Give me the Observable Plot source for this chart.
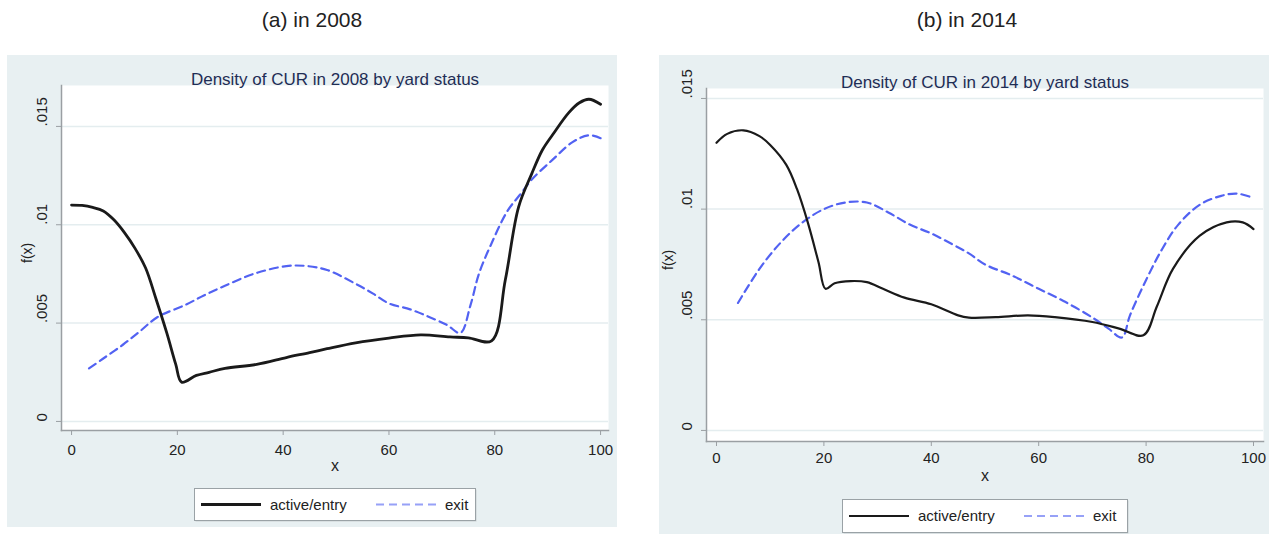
<!DOCTYPE html>
<html>
<head>
<meta charset="utf-8">
<script src="https://cdn.jsdelivr.net/npm/d3@7"></script>
<script src="https://cdn.jsdelivr.net/npm/@observablehq/plot@0.6"></script>
<style>
  body { margin: 0; background: #fff; font-family: "Liberation Sans", Arial, sans-serif; }
  #root { position: relative; width: 1274px; height: 534px; overflow: hidden; }
  .head { position: absolute; top: 8px; width: 300px; text-align: center; font-size: 21px; color: #222; }
  .panel { position: absolute; background: #e8f0f2; }
  .panel > svg { position: absolute; left: 0; top: 0; }
  .legend { position: absolute; overflow: visible; }
</style>
</head>
<body>
<div id="root"></div>
<script>
// Kernel density of CUR by yard status, evaluated on 0..100
const xTicks = [0, 20, 40, 60, 80, 100];
const yTicks = [0, 0.005, 0.01, 0.015];
const seriesNames = ["active/entry", "exit"];

// 2008
const xActive2008 = [0, 2, 4, 6, 8, 10, 12, 14, 16, 18, 19.7, 20.8, 23.6, 26, 29, 35, 40.6, 45, 48.3, 53.7, 60, 66, 71.5, 75, 79.4, 82, 84.5, 87, 89, 91, 94, 96, 97.8, 100];
const fActive2008 = [0.0110, 0.01098, 0.01088, 0.0107, 0.01025, 0.0096, 0.0088, 0.0078, 0.0062, 0.0045, 0.0029, 0.0020, 0.00234, 0.0025, 0.0027, 0.0029, 0.00325, 0.0035, 0.0037, 0.0040, 0.00424, 0.0044, 0.0043, 0.00425, 0.0041, 0.0072, 0.0109, 0.0126, 0.0138, 0.0146, 0.0157, 0.0162, 0.01638, 0.01613];
const xExit2008 = [3.3, 6, 9.7, 13, 16.2, 21.3, 25, 29, 34.4, 40.6, 44.5, 48.3, 53.7, 57, 60, 64, 67.7, 71, 73.5, 75.4, 77, 79.3, 82.4, 85, 87, 90.9, 94.7, 97.8, 100];
const fExit2008 = [0.0027, 0.0032, 0.0039, 0.0046, 0.0053, 0.0059, 0.0064, 0.0069, 0.0075, 0.0079, 0.0079, 0.0077, 0.0070, 0.0065, 0.0060, 0.0057, 0.0053, 0.0049, 0.0045, 0.0059, 0.0075, 0.0090, 0.0107, 0.0116, 0.0123, 0.0133, 0.0142, 0.01455, 0.0144];

// 2014
const xActive2014 = [0, 2, 5, 8, 10, 13, 15, 17, 19, 20.3, 22, 25, 28, 31, 35, 40, 45, 47, 52, 58, 63, 70, 75, 79.5, 82, 85, 90, 95, 98, 100];
const fActive2014 = [0.0130, 0.0134, 0.01356, 0.0133, 0.0129, 0.0120, 0.0109, 0.0094, 0.0076, 0.0064, 0.00665, 0.00675, 0.0067, 0.0064, 0.0060, 0.0057, 0.0052, 0.0051, 0.00512, 0.0052, 0.00512, 0.0049, 0.0046, 0.0043, 0.0056, 0.0073, 0.0088, 0.0094, 0.0094, 0.0091];
const xExit2014 = [4, 8, 12, 16, 20, 24, 28, 32, 36, 40, 44, 47, 50, 55, 60, 65, 70, 73, 75.5, 77, 80, 83, 86, 90, 94, 97, 100];
const fExit2014 = [0.00576, 0.0073, 0.0085, 0.0094, 0.0100, 0.0103, 0.0103, 0.00985, 0.0093, 0.0089, 0.0084, 0.0080, 0.0075, 0.0070, 0.0064, 0.0058, 0.0051, 0.0046, 0.0042, 0.0052, 0.0068, 0.0082, 0.0093, 0.0102, 0.0106, 0.0107, 0.0105];

const BLACK = "#1a1a1a";
const BLUE = "#5262f2";
const AXIS = "#9a9fa3";
const GRID = "#e4edef";

const rows = (xs, fs) => xs.map((x, i) => ({x, f: fs[i]}));
const fmt = d => d === 0 ? "0" : String(d).replace(/^0/, "");

function panel(cfg) {
  const div = document.createElement("div");
  div.className = "panel";
  Object.assign(div.style, {left: cfg.left + "px", top: cfg.top + "px", width: cfg.width + "px", height: cfg.height + "px"});

  const chart = Plot.plot({
    width: cfg.width,
    height: cfg.height,
    marginLeft: cfg.margin[0],
    marginTop: cfg.margin[1],
    marginRight: cfg.margin[2],
    marginBottom: cfg.margin[3],
    style: {background: "transparent", fontFamily: "'Liberation Sans', Arial, sans-serif", fontSize: "15px", color: "#222"},
    x: {domain: cfg.xDomain},
    y: {domain: cfg.yDomain},
    marks: [
      Plot.frame({fill: "white", stroke: null}),
      Plot.gridY(yTicks, {stroke: GRID, strokeOpacity: 1, strokeWidth: 1.5}),
      Plot.frame({anchor: "left", stroke: AXIS, strokeWidth: 1.5}),
      Plot.frame({anchor: "bottom", stroke: AXIS, strokeWidth: 1.5}),
      Plot.axisX({ticks: xTicks, tickSize: 5, tickPadding: cfg.xPad, stroke: AXIS, fill: "#222", label: null, fontSize: 15}),
      Plot.axisY({ticks: yTicks, tickSize: 5, tickFormat: () => "", stroke: AXIS, label: null}),
      Plot.text(yTicks, {y: d => d, text: fmt, frameAnchor: "left", dx: -19, rotate: -90, fontSize: 15, fill: "#222"}),
      Plot.text(["f(x)"], {frameAnchor: "left", dx: cfg.fxDx, dy: 5, rotate: -90, fontSize: 14, fill: "#222"}),
      Plot.text(["x"], {frameAnchor: "bottom", dy: cfg.xLabelDy, fontSize: 16, fill: "#222"}),
      Plot.text([cfg.title], {frameAnchor: "top", dy: -13, fontSize: 17, fill: "#1f2d55"}),
      Plot.line(rows(cfg.exit[0], cfg.exit[1]), {x: "x", y: "f", stroke: BLUE, strokeWidth: 2.2, strokeDasharray: "8,5", curve: "catmull-rom"}),
      Plot.line(rows(cfg.active[0], cfg.active[1]), {x: "x", y: "f", stroke: BLACK, strokeWidth: cfg.blackWidth, curve: "catmull-rom"})
    ]
  });
  div.appendChild(chart);

  // legend box beneath the plot
  const L = cfg.legend;
  const svg = d3.create("svg")
    .attr("class", "legend")
    .attr("width", L.w + 4).attr("height", L.h + 4)
    .style("left", L.x + "px").style("top", L.y + "px")
    .style("position", "absolute");
  svg.append("rect").attr("x", 1.5).attr("y", 1.5).attr("width", L.w).attr("height", L.h)
    .attr("fill", "#c9cfd2");
  svg.append("rect").attr("x", 0.5).attr("y", 0.5).attr("width", L.w).attr("height", L.h)
    .attr("fill", "white").attr("stroke", "#9aa2a6");
  const cy = L.h / 2 + 0.5;
  svg.append("line").attr("x1", 7).attr("x2", 67).attr("y1", cy).attr("y2", cy)
    .attr("stroke", BLACK).attr("stroke-width", cfg.blackWidth);
  svg.append("text").attr("x", 76).attr("y", cy + 5).text(seriesNames[0])
    .attr("font-size", 15).attr("fill", "#222").attr("font-family", "'Liberation Sans', Arial, sans-serif");
  svg.append("line").attr("x1", 182).attr("x2", 243).attr("y1", cy).attr("y2", cy)
    .attr("stroke", BLUE).attr("stroke-opacity", 0.6).attr("stroke-width", 2.2).attr("stroke-dasharray", "8,5");
  svg.append("text").attr("x", 251).attr("y", cy + 5).text(seriesNames[1])
    .attr("font-size", 15).attr("fill", "#222").attr("font-family", "'Liberation Sans', Arial, sans-serif");
  div.appendChild(svg.node());
  return div;
}

const root = document.getElementById("root");

function head(text, cx) {
  const h = document.createElement("div");
  h.className = "head";
  h.style.left = (cx - 150) + "px";
  h.textContent = text;
  root.appendChild(h);
}

head("(a) in 2008", 312);
head("(b) in 2014", 967);

root.appendChild(panel({
  left: 7, top: 55, width: 610, height: 472,
  margin: [54, 30, 9, 97],
  xDomain: [-1.9, 101.5],
  yDomain: [-0.00046, 0.01708],
  xPad: 9, xLabelDy: 40, fxDx: -34,
  title: "Density of CUR in 2008 by yard status",
  active: [xActive2008, fActive2008],
  exit: [xExit2008, fExit2008],
  blackWidth: 2.8,
  legend: {x: 187, y: 433, w: 281, h: 32}
}));

root.appendChild(panel({
  left: 659, top: 55, width: 610, height: 479,
  margin: [47, 33, 6, 93],
  xDomain: [-1.86, 101.86],
  yDomain: [-0.0005, 0.01545],
  xPad: 6, xLabelDy: 39, fxDx: -38,
  title: "Density of CUR in 2014 by yard status",
  active: [xActive2014, fActive2014],
  exit: [xExit2014, fExit2014],
  blackWidth: 2.2,
  legend: {x: 183, y: 444, w: 285, h: 33}
}));
</script>
</body>
</html>
